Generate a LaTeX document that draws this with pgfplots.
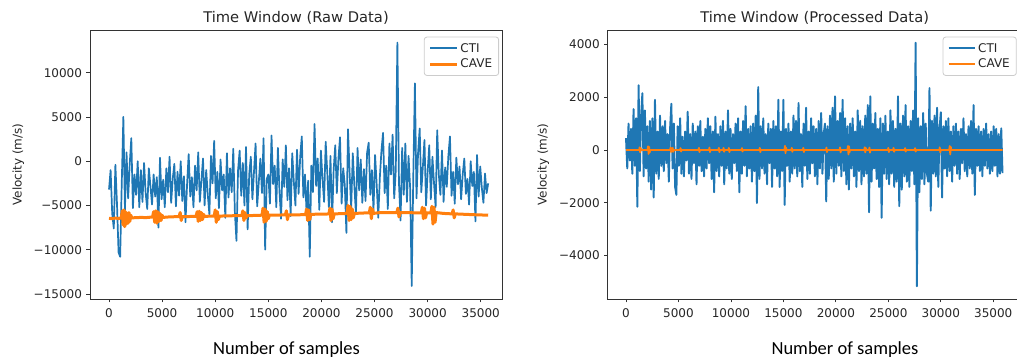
\documentclass[border=0pt]{standalone}
\usepackage{pgfplots}
\pgfplotsset{compat=1.18}
\usepackage{fontspec}
\setmainfont{DejaVu Sans}
\newfontfamily\calibri{Carlito}
\definecolor{mplblue}{HTML}{1F77B4}
\definecolor{mplorange}{HTML}{FF7F0E}
\pgfplotsset{
  every axis title shift=0pt,
  mplstyle/.style={
    scale only axis, height=269pt,
    scaled ticks=false,
    tick align=outside, tick pos=left, major tick length=3.5pt,
    axis line style={black!80, line width=0.8pt},
    every tick/.style={black!80, line width=0.8pt},
    xtick={0,5000,10000,15000,20000,25000,30000,35000},
    xticklabels={0,5000,10000,15000,20000,25000,30000,35000},
    ticklabel style={font=\fontsize{12}{13}\selectfont, text=black!85},
    xticklabel style={yshift=-3pt},
    yticklabel style={xshift=-1pt},
    title style={font=\fontsize{14.7}{16}\selectfont, text=black!85, anchor=center},
    ylabel={Velocity (m/s)},
    ylabel style={font=\fontsize{12}{14}\selectfont, text=black!85, anchor=center},
    legend image code/.code={\draw[#1] (0pt,0pt) -- (26.7pt,0pt);},
    legend style={anchor=north east, draw=black!20, line width=0.8pt, rounded corners=2.5pt,
      fill=white, font=\fontsize{12}{14}\selectfont, text=black!85,
      inner xsep=4.5pt, inner ysep=4pt, row sep=1.5pt},
    legend cell align=left,
  }
}
\begin{document}
\begin{tikzpicture}[x=1pt,y=1pt]
\path[use as bounding box] (0pt,0pt) rectangle (1017pt,361pt);
% ---------------- left: raw data
\begin{axis}[mplstyle, at={(90pt,62pt)}, anchor=south west, width=412pt,
  xmin=-1790, xmax=37000, ymin=-15565, ymax=14820,
  ytick={-15000,-10000,-5000,0,5000,10000},
  yticklabels={−15000,−10000,−5000,0,5000,10000},
  title={Time Window (Raw Data)}, title style={at={(0.5,1.0446)}},
  ylabel style={at={(axis description cs:-0.174,0.5)}},
  legend style={at={(1,1)}, xshift=-3pt, yshift=-6.7pt}]
\addplot[mplblue, line width=1.7pt, line join=round] coordinates {
(0,-3200) (150,-1000) (300,-5900) (450,-7600) (600,-400) (750,-4800) (900,-10300) (1050,-10800) (1200,-2500) (1350,5000)
(1500,-5500) (1650,1000) (1800,-4200) (1950,-300) (2100,2600) (2250,-5300) (2400,-1500) (2550,-3800) (2700,0) (2850,-5200)
(3000,-1000) (3150,-4600) (3300,-200) (3450,-3600) (3600,-5400) (3750,-800) (3900,-2800) (4050,-4900) (4200,-1500) (4350,-4000)
(4500,-1800) (4650,-7500) (4800,400) (4950,-4300) (5100,-2100) (5250,-5200) (5400,-800) (5550,-3500) (5700,500) (5850,-4700)
(6000,-2000) (6150,-300) (6300,-5100) (6450,-1200) (6600,-3900) (6750,0) (6900,-4500) (7050,-1700) (7200,-6900) (7350,-2600)
(7500,800) (7650,-4000) (7800,-1800) (7950,-5200) (8100,-500) (8250,-3300) (8400,1000) (8550,-4600) (8700,-2200) (8850,300)
(9000,-5000) (9150,-1000) (9300,-3800) (9450,-6000) (9600,600) (9750,-2500) (9900,2300) (10050,-4200) (10200,-1200) (10350,-5300)
(10500,200) (10650,-3300) (10800,-1500) (10950,-6400) (11100,900) (11250,-4100) (11400,-800) (11550,-3500) (11700,1400) (11850,-5800)
(12000,-9000) (12150,-1000) (12300,1200) (12450,-3900) (12600,-200) (12750,-5000) (12900,1600) (13050,-7700) (13200,-1500) (13350,500)
(13500,-4300) (13650,-1200) (13800,2000) (13950,-5100) (14100,-2400) (14250,300) (14400,-3600) (14550,2600) (14700,-10000) (14850,-2000)
(15000,-1500) (15150,-4800) (15300,2900) (15450,-2600) (15600,-500) (15750,-5200) (15900,1500) (16050,-3400) (16200,-6500) (16350,200)
(16500,-2900) (16650,1800) (16800,-4400) (16950,-800) (17100,-6200) (17250,900) (17400,-2300) (17550,-5000) (17700,1300) (17850,-3700)
(18000,500) (18150,2800) (18300,-4100) (18450,-1500) (18600,-5800) (18750,-2200) (18900,-10800) (19050,-500) (19200,-3500) (19350,4200)
(19500,-2800) (19650,300) (19800,-5500) (19950,1200) (20100,-2000) (20250,-4600) (20400,2200) (20550,-1300) (20700,-5200) (20850,600)
(21000,-6900) (21150,-1000) (21300,1800) (21450,-3600) (21600,300) (21750,2700) (21900,-4800) (22050,-800) (22200,-2700) (22350,-8100)
(22500,3600) (22650,-1200) (22800,-5400) (22950,900) (23100,-2800) (23250,-6000) (23400,1500) (23550,-3300) (23700,200) (23850,-4700)
(24000,-900) (24150,-4500) (24300,1000) (24450,2100) (24600,-3800) (24750,-1000) (24900,-5600) (25050,700) (25200,-2600) (25350,-6400)
(25500,-1800) (25650,1200) (25800,3200) (25950,-3600) (26100,-500) (26250,-5400) (26400,2000) (26550,-1500) (26700,3000) (26850,-4200)
(27000,-1000) (27150,13400) (27300,-2500) (27450,-6700) (27600,1500) (27750,-3800) (27900,2000) (28050,-4600) (28200,600) (28350,-3000)
(28500,-14100) (28650,-1500) (28800,8800) (28950,-4200) (29100,1000) (29250,3700) (29400,-3500) (29550,-600) (29700,2400) (29850,-5000)
(30000,-1200) (30150,1800) (30300,-4300) (30450,500) (30600,-2500) (30750,-5200) (30900,3500) (31050,-1500) (31200,-3800) (31350,1200)
(31500,-4600) (31650,-700) (31800,-2900) (31950,600) (32100,2800) (32250,-3900) (32400,-1200) (32550,-4800) (32700,400) (32850,-2600)
(33000,-600) (33150,-4300) (33300,-1500) (33450,300) (33600,-3700) (33750,-2000) (33900,-4900) (34050,0) (34200,-2800) (34350,-1200)
(34500,-6800) (34650,700) (34800,-4000) (34950,-600) (35100,-3000) (35250,-4700) (35400,-1400) (35550,-3600) (35700,-2500)
};
\addlegendentry{CTI}
\addplot[mplorange, line width=3pt, line join=round] coordinates {
(0,-6450) (300,-6500) (600,-6420) (900,-6480) (1150,-6400) (1250,-5600) (1320,-7200) (1400,-5500) (1480,-7400) (1560,-5700) (1640,-7100) (1720,-5900) (1800,-7000) (1880,-5800) (1960,-6800) (2050,-6100) (2150,-6400) (2500,-6380) (3000,-6350) (3500,-6370)
(4100,-6300) (4200,-5700) (4300,-6900) (4400,-5600) (4500,-7000) (4600,-5700) (4700,-6800) (4800,-5900) (4900,-6700) (5000,-6100) (5100,-6350) (5600,-6300) (6000,-6280) (6600,-6250) (6700,-5800) (6800,-6700) (6900,-6250) (7500,-6250)
(8200,-6220) (8300,-5700) (8400,-6800) (8500,-5650) (8600,-6700) (8700,-5800) (8800,-6600) (8900,-6000) (9000,-6250) (9500,-6200) (9900,-6200) (10000,-5500) (10100,-6900) (10200,-5700) (10300,-6600) (10400,-6200) (11000,-6180) (12000,-6150)
(12500,-6150) (12600,-5600) (12700,-6700) (12800,-5800) (12900,-6400) (13000,-6150) (14000,-6120) (14400,-6100) (14500,-5300) (14600,-6900) (14700,-5400) (14800,-6800) (14900,-5700) (15000,-6500) (15100,-6100) (16000,-6080)
(16600,-6070) (16700,-5600) (16800,-6600) (16900,-6050) (18000,-6050) (18500,-6020) (18600,-5400) (18700,-6700) (18800,-5500) (18900,-6600) (19000,-6000) (20000,-5980) (20700,-5960) (20800,-5300) (20900,-6700) (21000,-5400) (21100,-6500) (21200,-5950)
(22000,-5920) (22400,-5900) (22500,-5000) (22600,-6700) (22700,-5100) (22800,-6600) (22900,-5400) (23000,-6400) (23100,-5900) (24000,-5850) (24500,-5850) (24600,-5200) (24700,-6500) (24800,-5400) (24900,-5900) (25500,-5800) (26500,-5800)
(27100,-5800) (27200,-5300) (27300,-6300) (27400,-5800) (28500,-5820) (29400,-5850) (29500,-5200) (29600,-6500) (29700,-5300) (29800,-6400) (29900,-5850) (30300,-5850) (30400,-5100) (30500,-7100) (30600,-5200) (30700,-6900) (30800,-5800)
(31500,-5900) (32300,-5950) (32400,-5500) (32500,-6400) (32600,-5950) (33500,-6000) (34500,-6050) (35700,-6100)
};
\addlegendentry{CAVE}
\end{axis}
% ---------------- right: processed data
\begin{axis}[mplstyle, at={(607.7pt,62pt)}, anchor=south west, width=413.9pt,
  xmin=-1744, xmax=37700, ymin=-5643, ymax=4543,
  ytick={-4000,-2000,0,2000,4000},
  yticklabels={−4000,−2000,0,2000,4000},
  title={Time Window (Processed Data)}, title style={at={(0.5,1.0446)}},
  ylabel style={at={(axis description cs:-0.1556,0.5)}},
  legend style={at={(1,1)}, xshift=-4.9pt, yshift=-6.7pt}]
\addplot[mplblue, line width=1.9pt, line join=round] coordinates {
(0,450) (120,-700) (240,1000) (360,-400) (480,800) (600,-900) (720,1550) (840,-600) (960,1200) (1080,-2150)
(1200,2450) (1320,-800) (1440,1300) (1560,2150) (1680,-1000) (1800,1500) (1920,-700) (2040,900) (2160,-1200) (2280,1100)
(2400,-1500) (2520,1200) (2640,-1800) (2760,1900) (2880,-900) (3000,700) (3120,-1100) (3240,1300) (3360,-600) (3480,900)
(3600,-800) (3720,1100) (3840,-500) (3960,600) (4080,-1200) (4200,800) (4320,1750) (4440,-700) (4560,1000) (4680,-1400)
(4800,-1700) (4920,900) (5040,-600) (5160,1200) (5280,-900) (5400,500) (5520,-1000) (5640,700) (5760,-400) (5880,1450)
(6000,-900) (6120,600) (6240,-1100) (6360,1000) (6480,-500) (6600,700) (6720,-1300) (6840,900) (6960,-600) (7080,1100)
(7200,-800) (7320,500) (7440,-1000) (7560,800) (7680,-700) (7800,1200) (7920,-500) (8040,900) (8160,-1100) (8280,700)
(8400,-1600) (8520,1260) (8640,-800) (8760,600) (8880,-1000) (9000,900) (9120,-600) (9240,1100) (9360,-1300) (9480,700)
(9600,-700) (9720,1500) (9840,-900) (9960,800) (10080,-1100) (10200,600) (10320,-500) (10440,1000) (10560,-800) (10680,1200)
(10800,-1600) (10920,700) (11040,-900) (11160,1100) (11280,-600) (11400,1660) (11520,-1000) (11640,800) (11760,-700) (11880,900)
(12000,-1200) (12120,1000) (12240,-800) (12360,1300) (12480,-2010) (12600,2380) (12720,-1100) (12840,900) (12960,-700) (13080,1200)
(13200,-900) (13320,600) (13440,-1300) (13560,1000) (13680,-500) (13800,800) (13920,-1400) (14040,1100) (14160,-700) (14280,900)
(14400,-1000) (14520,1900) (14640,-1400) (14760,700) (14880,-800) (15000,1900) (15120,-2080) (15240,800) (15360,-600) (15480,1000)
(15600,-1200) (15720,700) (15840,-900) (15960,1300) (16080,-700) (16200,1100) (16320,-1000) (16440,1780) (16560,-800) (16680,600)
(16800,-1400) (16920,1000) (17040,-600) (17160,1600) (17280,-1100) (17400,700) (17520,-900) (17640,1200) (17760,-500) (17880,900)
(18000,-1000) (18120,800) (18240,-1300) (18360,1100) (18480,-700) (18600,1400) (18720,-900) (18840,600) (18960,1000) (19080,-1950)
(19200,900) (19320,-1100) (19440,1300) (19560,-700) (19680,1600) (19800,-1200) (19920,2030) (20040,-900) (20160,1100) (20280,-600)
(20400,1400) (20520,-1000) (20640,1900) (20760,-800) (20880,1200) (21000,-1300) (21120,900) (21240,-1500) (21360,1000) (21480,-700)
(21600,1200) (21720,-1000) (21840,700) (21960,-1400) (22080,1500) (22200,-800) (22320,1100) (22440,-1300) (22560,900) (22680,-1000)
(22800,1300) (22920,-900) (23040,1700) (23160,-2360) (23280,2030) (23400,-1200) (23520,1000) (23640,-700) (23760,1400) (23880,-1100)
(24000,800) (24120,-1400) (24240,1200) (24360,-2570) (24480,1000) (24600,-900) (24720,1300) (24840,-1100) (24960,700) (25080,-1300)
(25200,1500) (25320,-900) (25440,1100) (25560,-1400) (25680,800) (25800,-1200) (25920,2030) (26040,-2130) (26160,1000) (26280,-1500)
(26400,1300) (26520,-1000) (26640,1700) (26760,-1200) (26880,900) (27000,-1400) (27120,1100) (27240,-800) (27360,1500) (27480,-1300)
(27600,4060) (27720,-5160) (27840,1200) (27960,-1600) (28080,900) (28200,-1100) (28320,1400) (28440,-1300) (28560,1000) (28680,-900)
(28800,-1200) (28920,2340) (29040,-2300) (29160,1100) (29280,-900) (29400,1300) (29520,-1000) (29640,1600) (29760,-1400) (29880,800)
(30000,1430) (30120,-1800) (30240,900) (30360,-700) (30480,1100) (30600,-1000) (30720,1200) (30840,-800) (30960,700) (31080,-1200)
(31200,900) (31320,-600) (31440,1000) (31560,-900) (31680,700) (31800,-1100) (31920,800) (32040,-500) (32160,1200) (32280,-800)
(32400,600) (32520,-1000) (32640,900) (32760,-700) (32880,1100) (33000,-900) (33120,1700) (33240,-1700) (33360,800) (33480,-600)
(33600,900) (33720,-800) (33840,700) (33960,-1000) (34080,800) (34200,-600) (34320,1000) (34440,-700) (34560,600) (34680,-900)
(34800,700) (34920,-800) (35040,900) (35160,-600) (35280,800) (35400,-1000) (35520,600) (35640,-900) (35760,820) (35880,-880)
};
\addlegendentry{CTI}
\addplot[mplorange, line width=1.8pt, line join=round] coordinates {
(0,0) (1250,0) (1300,100) (1350,-90) (1400,70) (1450,0) (2050,0) (2100,140) (2150,-150) (2200,120) (2250,-100) (2300,0)
(4200,0) (4250,90) (4300,-80) (4350,0) (4450,80) (4500,-70) (4550,0) (5150,0) (5200,70) (5250,-60) (5300,0)
(6900,0) (6950,80) (7000,-80) (7050,0) (7900,0) (7950,90) (8000,-80) (8050,0) (8800,0) (8850,80) (8900,-80) (8950,0)
(9250,0) (9300,80) (9350,-70) (9400,0) (9750,0) (9800,80) (9850,-80) (9900,0) (11000,0) (11050,70) (11100,-60) (11150,0)
(12700,0) (12750,80) (12800,-80) (12850,0) (15100,0) (15150,160) (15200,-120) (15250,90) (15300,0) (15750,0) (15800,80) (15850,-70) (15900,0)
(16850,0) (16900,80) (16950,-80) (17000,0) (19050,0) (19100,90) (19150,-80) (19200,0) (20350,0) (20400,100) (20450,-90) (20500,0)
(21100,0) (21150,150) (21200,-170) (21250,140) (21300,-90) (21350,0) (22700,0) (22750,100) (22800,-90) (22850,80) (22900,0)
(23150,0) (23200,90) (23250,-100) (23300,0) (24950,0) (25000,80) (25050,-80) (25100,0) (25450,0) (25500,80) (25550,-70) (25600,0)
(26550,0) (26600,70) (26650,-60) (26700,0) (27500,0) (27550,70) (27600,-60) (27650,0) (29850,0) (29900,100) (29950,-90) (30000,0)
(30800,0) (30850,150) (30900,-170) (30950,120) (31000,0) (35900,0)
};
\addlegendentry{CAVE}
\end{axis}
\node[font=\calibri\fontsize{18.5}{20}\selectfont] at (286.5pt,11pt) {Number of samples};
\node[font=\calibri\fontsize{18.5}{20}\selectfont] at (845pt,11pt) {Number of samples};
\end{tikzpicture}
\end{document}
